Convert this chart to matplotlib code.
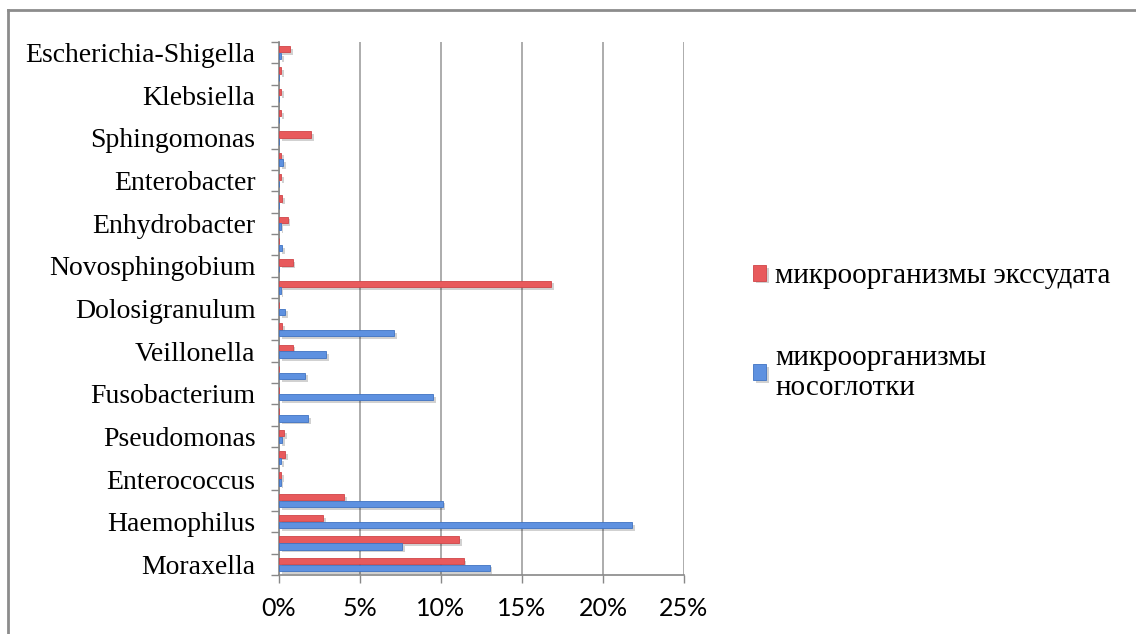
import matplotlib
matplotlib.use('Agg')
import matplotlib.pyplot as plt
import matplotlib.patheffects as pe
from matplotlib.lines import Line2D
from matplotlib.ticker import FixedLocator, PercentFormatter
import numpy as np

# categories bottom -> top; only every second name is printed on the chart
categories = ['Moraxella', '', 'Haemophilus', '', 'Enterococcus', '', 'Pseudomonas', '',
              'Fusobacterium', '', 'Veillonella', '', 'Dolosigranulum', '', 'Novosphingobium', '',
              'Enhydrobacter', '', 'Enterobacter', '', 'Sphingomonas', '', 'Klebsiella', '',
              'Escherichia-Shigella']
exudate = [11.4, 11.1, 2.7, 4.0, 0.15, 0.37, 0.3, 0.0, 0.0, 0.0, 0.84, 0.2, 0.0,
           16.8, 0.84, 0.0, 0.53, 0.2, 0.15, 0.15, 2.0, 0.12, 0.12, 0.12, 0.7]
nasopharynx = [13.0, 7.6, 21.8, 10.1, 0.1, 0.12, 0.2, 1.8, 9.5, 1.6, 2.9, 7.1, 0.37,
               0.1, 0.0, 0.2, 0.1, 0.0, 0.0, 0.23, 0.0, 0.0, 0.0, 0.0, 0.12]
series_names = ['микроорганизмы экссудата', 'микроорганизмы\nносоглотки']

fig = plt.figure(figsize=(11.36, 6.34), dpi=100)
ax = fig.add_axes([279/1136, 1 - 575/634, (684 - 279)/1136, (575 - 42)/634])

y = np.arange(len(categories))
shadow = [pe.withSimplePatchShadow(offset=(2, -2), shadow_rgbFace='k', alpha=0.18)]
b1 = ax.barh(y + 0.16, exudate, height=0.3, color='#e85a5c', edgecolor='#d04448',
             linewidth=0.6, label=series_names[0], zorder=3)
b2 = ax.barh(y - 0.16, nasopharynx, height=0.3, color='#5e91e0', edgecolor='#3f73c2',
             linewidth=0.6, label=series_names[1], zorder=3)
for b in list(b1) + list(b2):
    b.set_path_effects(shadow)

ax.set_xlim(0, 25)
ax.set_ylim(-0.5, len(categories) - 0.5)
ax.set_xticks(np.arange(0, 26, 5))
ax.xaxis.set_major_formatter(PercentFormatter(decimals=0))
ax.xaxis.grid(True, color='#a6a6a6', linewidth=1.3, zorder=0)

# category names at centres, tick marks at category boundaries
ax.yaxis.set_major_locator(FixedLocator(y[::2]))
ax.set_yticklabels(categories[::2])
ax.yaxis.set_minor_locator(FixedLocator(np.arange(-0.5, len(categories), 1)))
ax.tick_params(axis='y', which='major', length=0, pad=17)
ax.tick_params(axis='y', which='minor', length=6, color='#888888', width=1)
ax.tick_params(axis='x', length=6, color='#888888', width=1, pad=10)

for lab in ax.get_yticklabels():
    lab.set_fontfamily('Liberation Serif')
    lab.set_fontsize(20)
for lab in ax.get_xticklabels():
    lab.set_fontfamily('Lato')
    lab.set_fontsize(18)

for s in ['top', 'right']:
    ax.spines[s].set_visible(False)
for s in ['left', 'bottom']:
    ax.spines[s].set_color('#888888')
    ax.spines[s].set_linewidth(1.2)

leg = fig.legend(handles=[b1, b2], loc='upper left', bbox_to_anchor=(727/1136, 1 - 237/634),
                 frameon=False, prop={'family': 'Liberation Serif', 'size': 21},
                 handlelength=0.45, handleheight=0.45, handletextpad=0.3, labelspacing=1.9)

# outer frame (left and top edges visible)
fig.add_artist(Line2D([8/1136, 8/1136], [0, 1 - 10/634], transform=fig.transFigure,
                      color='#8c8c8c', linewidth=2))
fig.add_artist(Line2D([8/1136, 1], [1 - 10/634, 1 - 10/634], transform=fig.transFigure,
                      color='#8c8c8c', linewidth=2))

fig.savefig('out.png', dpi=100)
